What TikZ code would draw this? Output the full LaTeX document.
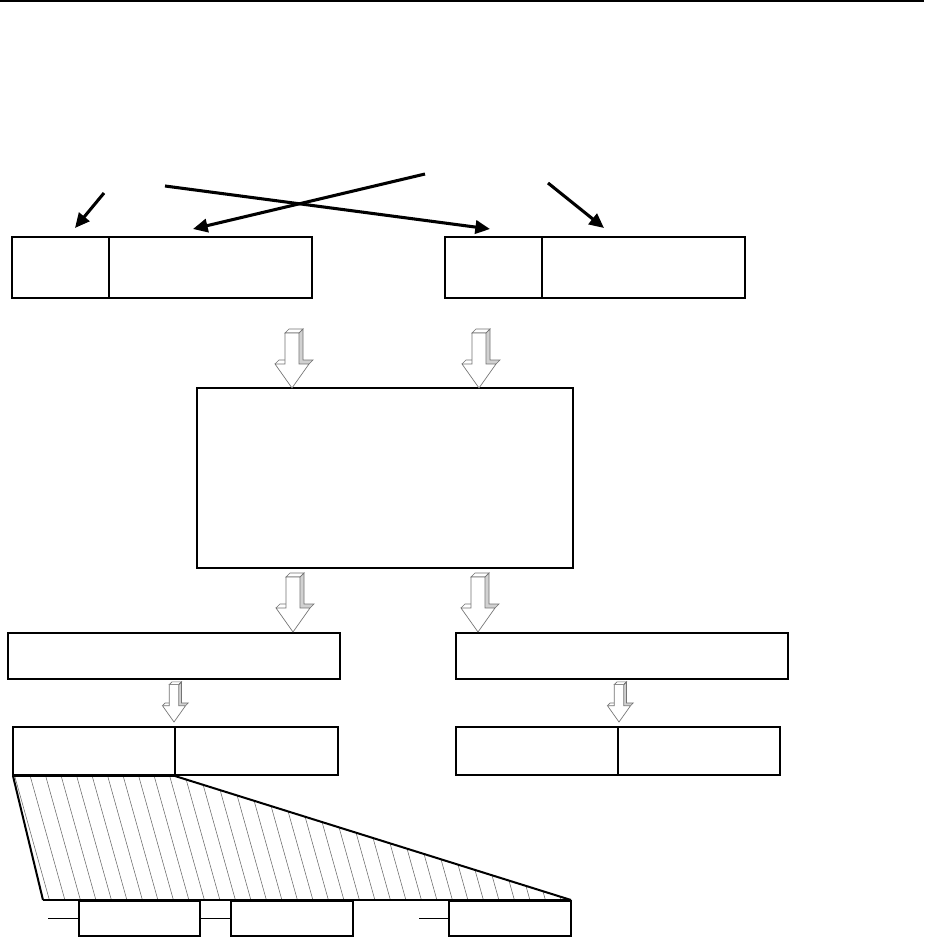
\documentclass[tikz,border=0pt]{standalone}
\usetikzlibrary{arrows.meta}
\tikzset{
  box/.style={draw, line width=1.1pt, inner sep=0pt, outer sep=0pt, fill=none},
  ptr/.style={line width=2.3pt, -{Triangle[length=11pt,width=10pt]}},
  hatchline/.style={line width=0.4pt, draw=black!60},
  edge3/.style={line width=1.5pt},
  stub/.style={line width=1.1pt},
  pics/barrow/.style={code={
    \fill[black!18] (7,-55) -- (11,-59) -- (11,-28) -- (21,-28) -- (17,-24) -- (7,-24) -- cycle;
    \draw[black!55, line width=0.5pt, fill=white] (-7,-55) -- (-3,-59) -- (11,-59) -- (7,-55) -- cycle;
    \draw[black!55, line width=0.5pt] (7,-55) -- (11,-59) -- (11,-28) -- (21,-28) -- (17,-24);
    \draw[black!55, line width=0.5pt] (-17,-24) -- (-13,-28) -- (-7,-28);
    \draw[black!55, line width=0.5pt, fill=white] (-7,-55) -- (7,-55) -- (7,-24) -- (17,-24) -- (0,0) -- (-17,-24) -- (-7,-24) -- cycle;
  }}
}
\begin{document}
\begin{tikzpicture}[x=0.75pt,y=-0.75pt]
\useasboundingbox (0,0) rectangle (924,938);
\fill[white] (0,0) rectangle (924,938);
% top rule
\coordinate (ruleL) at (0,1);
\coordinate (ruleR) at (924,1);
\draw[line width=1.6pt] (ruleL) -- (ruleR);

% row 1
\node[box, minimum width=72.75pt, minimum height=45.75pt] (A1) at (60.5,267.5) {};
\node[box, minimum width=152.25pt, minimum height=45.75pt] (A2) at (210.5,267.5) {};
\node[box, minimum width=72.75pt, minimum height=45.75pt] (B1) at (493.5,267.5) {};
\node[box, minimum width=152.25pt, minimum height=45.75pt] (B2) at (643.5,267.5) {};

% top pointers
\coordinate (s1) at (104,193); \coordinate (t1) at (75,228);
\coordinate (s2) at (425,174); \coordinate (t2) at (193,229);
\coordinate (s3) at (165,186); \coordinate (t3) at (490,229);
\coordinate (s4) at (548,183); \coordinate (t4) at (604,228);
\draw[ptr] (s1) -- (t1);
\draw[ptr] (s2) -- (t2);
\draw[ptr] (s3) -- (t3);
\draw[ptr] (s4) -- (t4);

% big box
\node[box, minimum width=282pt, minimum height=135pt] (M) at (385,478) {};

% row 2
\node[box, minimum width=249pt, minimum height=34.5pt] (C) at (174,656) {};
\node[box, minimum width=249pt, minimum height=34.5pt] (D) at (622,656) {};

% row 3
\node[box, minimum width=121.5pt, minimum height=36pt] (E1) at (94,751) {};
\node[box, minimum width=122.25pt, minimum height=36pt] (E2) at (256.5,751) {};
\node[box, minimum width=121.5pt, minimum height=36pt] (F1) at (537,751) {};
\node[box, minimum width=121.5pt, minimum height=36pt] (F2) at (699,751) {};

% block arrows
\pic at (292,388) {barrow};
\pic at (479,388) {barrow};
\pic at (293,632) {barrow};
\pic at (478,632) {barrow};
\pic[scale=0.68] at (174,722) {barrow};
\pic[scale=0.68] at (619,722) {barrow};

% hatched fan
\coordinate (zTL) at (13,776);
\coordinate (zTR) at (175,776);
\coordinate (zBR) at (571,900);
\coordinate (zBL) at (43,900);
\begin{scope}
  \clip (zTL) -- (zTR) -- (zBR) -- (zBL) -- cycle;
  \foreach \i in {-6,...,40} {
    \draw[hatchline] ({13+15.5*\i},770) -- ({13+15.5*\i+0.28*135},905);
  }
\end{scope}
\draw[edge3] (zTL) -- (zTR);
\draw[edge3] (zTL) -- (zBL);
\draw[edge3] (zTR) -- (zBR);
\draw[edge3] (zBL) -- (zBR);

% bottom boxes
\node[box, minimum width=90.75pt, minimum height=26.25pt] (G1) at (139.5,918.5) {};
\node[box, minimum width=91.5pt, minimum height=26.25pt] (G2) at (292,918.5) {};
\node[box, minimum width=91.5pt, minimum height=26.25pt] (G3) at (510,918.5) {};
\coordinate (g1in) at (48,918.5);
\coordinate (g3in) at (419,918.5);
\draw[stub] (g1in) -- (G1.west);
\draw[stub] (G1.east) -- (G2.west);
\draw[stub] (g3in) -- (G3.west);
\end{tikzpicture}
\end{document}
